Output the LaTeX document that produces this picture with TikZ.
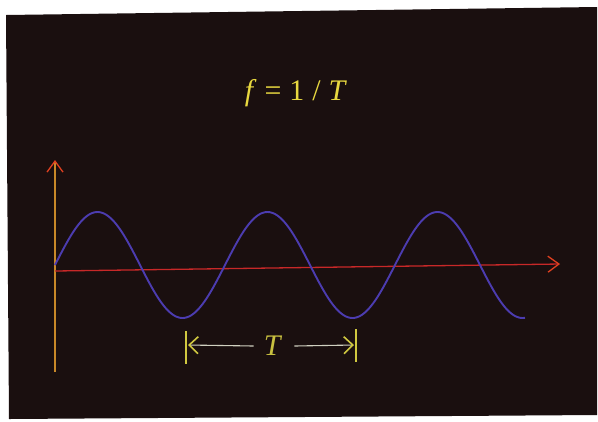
\documentclass[tikz,border=0pt]{standalone}
\usepackage{fontspec}
\setmainfont{Liberation Serif}
\usetikzlibrary{arrows.meta}
\definecolor{bg}{HTML}{1A0F0F}
\definecolor{titley}{HTML}{E8D840}
\definecolor{ty}{HTML}{C8C040}
\definecolor{axo}{HTML}{C88828}
\definecolor{axr}{HTML}{C82828}
\definecolor{tipr}{HTML}{E04020}
\definecolor{wave}{HTML}{4C3CB0}
\definecolor{pale}{HTML}{D0D0C0}
\definecolor{bary}{HTML}{D0C840}
\tikzset{
  axisline/.style={line width=1.3bp},
  wavestyle/.style={wave, line width=1.9bp, line join=round},
  periodarrow/.style={pale, line width=1.1bp, -{Straight Barb[length=9bp,width=17bp,color=bary,line width=1.6bp]}},
  periodbar/.style={bary, line width=1.6bp},
  lbl/.style={inner sep=0pt, font=\fontsize{30}{34}\selectfont},
  axtip/.style={-{Straight Barb[length=11bp,width=16bp,color=tipr,line width=1.3bp]}}
}
\begin{document}
\begin{tikzpicture}[x=1bp,y=-1bp]
\useasboundingbox (0,0) rectangle (598,421);
\fill[white] (0,0) rectangle (598,421);
\fill[bg] (6,15) -- (597,7) -- (597,415) -- (9,419) -- cycle;
% title
\node[lbl, titley] (title) at (296,93) {\textit{f}\hspace{8bp}=\hspace{8bp}1\hspace{8bp}/\hspace{8bp}\textit{T}};
% axes
\coordinate (vb) at (55,372);
\coordinate (vt) at (55,160);
\coordinate (hl) at (55,271);
\coordinate (hr) at (560,264);
\draw[axisline, axo, axtip] (vb) -- (vt);
\draw[axisline, axr, axtip] (hl) -- (hr);
% wave
\draw[wavestyle] plot[domain=55:525, samples=240] (\x, {265 - 53*sin(2.117647*(\x-55))});
% period marker
\node[lbl, ty] (T) at (273,346) {\textit{T}};
\coordinate (b1t) at (186,331);
\coordinate (b1b) at (186,364);
\coordinate (b2t) at (356,329);
\coordinate (b2b) at (356,362);
\draw[periodbar] (b1t) -- (b1b);
\draw[periodbar] (b2t) -- (b2b);
\coordinate (a1) at (188,345);
\coordinate (a2) at (354,345);
\path (T.west) ++(-10bp,0) coordinate (tl);
\path (T.east) ++(12bp,0) coordinate (tr);
\draw[periodarrow] (tl) -- (a1);
\draw[periodarrow] (tr) -- (a2);
\end{tikzpicture}
\end{document}
